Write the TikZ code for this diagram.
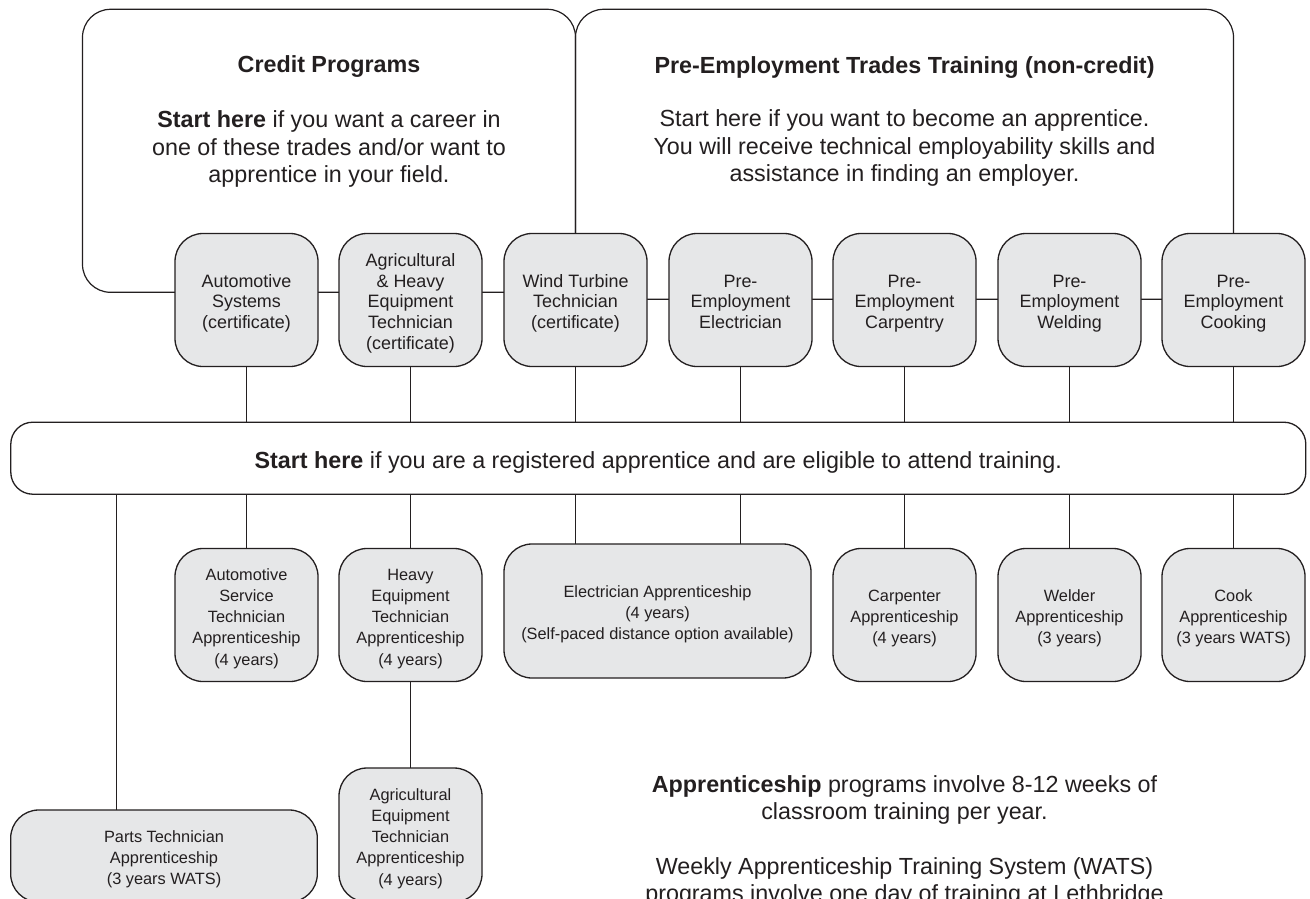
\documentclass[tikz,border=0pt]{standalone}
\usepackage{fontspec}
\setmainfont{Liberation Sans}
\definecolor{ink}{HTML}{231F20}
\definecolor{boxfill}{HTML}{E6E7E8}
\newcommand{\tsA}{\rule{0pt}{20pt}}
\newcommand{\bsA}{\rule[-4pt]{0pt}{4pt}}
\newcommand{\tsB}{\rule{0pt}{19pt}}
\newcommand{\bsB}{\rule[-3.5pt]{0pt}{3.5pt}}
\tikzset{
  bigbox/.style={draw=ink, line width=1.2bp, rounded corners=28bp, inner sep=0pt, outer sep=0pt},
  prog/.style={draw=ink, fill=boxfill, line width=1.3bp, rounded corners=28bp,
    minimum width=143bp, minimum height=133bp, align=center, inner sep=2pt, outer sep=0pt,
    font=\fontsize{18}{21}\selectfont, text=ink},
  appr/.style={prog, font=\fontsize{16.4}{21.3}\selectfont},
  barbox/.style={draw=ink, fill=white, line width=1.3bp, rounded corners=22bp,
    minimum width=1295bp, minimum height=72bp, inner sep=0pt, outer sep=0pt,
    text height=21pt, text depth=1pt,
    font=\fontsize{23.4}{27.5}\selectfont, text=ink},
  link/.style={draw=ink, line width=1.2bp},
  txt/.style={align=center, font=\fontsize{23.4}{27.5}\selectfont, text=ink, inner sep=0pt},
}
\begin{document}
\begin{tikzpicture}[x=1bp,y=-1bp]
\useasboundingbox (0,0) rectangle (1310,898);
\clip (0,0) rectangle (1310,898);
\fill[white] (0,0) rectangle (1310,898);

% large framing boxes
\node[bigbox, minimum width=493bp, minimum height=283bp] (credit) at (329,150.8) {};
\node[bigbox, minimum width=658bp, minimum height=290bp] (pre) at (904.5,154.3) {};

\node[txt, font=\fontsize{23.4}{27.5}\selectfont\bfseries] (credittitle) at (329,67) {Credit Programs};
\node[txt] (credittext) at (329,149) {\textbf{Start here} if you want a career in\\one of these trades and/or want to\\apprentice in your field.};
\node[txt, font=\fontsize{23.4}{27.5}\selectfont\bfseries] (pretitle) at (904.5,67.5) {Pre-Employment Trades Training (non-credit)};
\node[txt] (pretext) at (904.5,148) {Start here if you want to become an apprentice.\\You will receive technical employability skills and\\assistance in finding an employer.};

% apprentice bar
\node[barbox] (bar) at (658.3,458.2) {\textbf{Start here} if you are a registered apprentice and are eligible to attend training.};

% top row programs
\node[prog] (t1) at (246.5,300) {\tsA Automotive\\Systems\\(certificate)\bsA};
\node[prog] (t2) at (410.5,300) {\tsA Agricultural\\\& Heavy\\Equipment\\Technician\\(certificate)\bsA};
\node[prog] (t3) at (575.5,300) {\tsA Wind Turbine\\Technician\\(certificate)\bsA};
\node[prog] (t4) at (740.5,300) {\tsA Pre-\\Employment\\Electrician\bsA};
\node[prog] (t5) at (904.5,300) {\tsA Pre-\\Employment\\Carpentry\bsA};
\node[prog] (t6) at (1069.5,300) {\tsA Pre-\\Employment\\Welding\bsA};
\node[prog] (t7) at (1233.5,300) {\tsA Pre-\\Employment\\Cooking\bsA};

% bottom row apprenticeships
\node[appr] (b1) at (246.5,615) {\tsB Automotive\\Service\\Technician\\Apprenticeship\\(4 years)\bsB};
\node[appr] (b2) at (410.5,615) {\tsB Heavy\\Equipment\\Technician\\Apprenticeship\\(4 years)\bsB};
\node[appr, minimum width=307bp, minimum height=134bp] (b3) at (657.5,611) {\tsB Electrician Apprenticeship\\(4 years)\\(Self-paced distance option available)\bsB};
\node[appr] (b4) at (904.5,615) {\tsB Carpenter\\Apprenticeship\\(4 years)\bsB};
\node[appr] (b5) at (1069.5,615) {\tsB Welder\\Apprenticeship\\(3 years)\bsB};
\node[appr] (b6) at (1233.5,615) {\tsB Cook\\Apprenticeship\\(3 years WATS)\bsB};
\node[appr, minimum width=306.6bp, minimum height=92bp] (parts) at (164,856) {\tsB Parts Technician\\Apprenticeship\\(3 years WATS)\bsB};
\node[appr, minimum height=134bp] (aet) at (410.5,835) {\tsB Agricultural\\Equipment\\Technician\\Apprenticeship\\(4 years)\bsB};
\coordinate (px) at (116.5,0);

% connectors top row -> bar
\foreach \n in {t1,t2,t3,t4,t5,t6,t7}{
  \draw[link] (\n.south) -- (\n.south |- bar.north);
}
% bar -> bottom row
\foreach \n in {b1,b2,b4,b5,b6}{
  \draw[link] (bar.south -| \n.north) -- (\n.north);
}
\draw[link] (bar.south -| t3.south) -- (b3.north -| t3.south);
\draw[link] (bar.south -| t4.south) -- (b3.north -| t4.south);
\draw[link] (bar.south -| px) -- (parts.north -| px);
\draw[link] (b2.south) -- (aet.north);

% note text
\node[txt, anchor=north] (note) at (904.5,775) {\textbf{Apprenticeship} programs involve 8-12 weeks of\\classroom training per year.\\[27.5pt]Weekly Apprenticeship Training System (WATS)\\programs involve one day of training at Lethbridge};
\end{tikzpicture}
\end{document}
